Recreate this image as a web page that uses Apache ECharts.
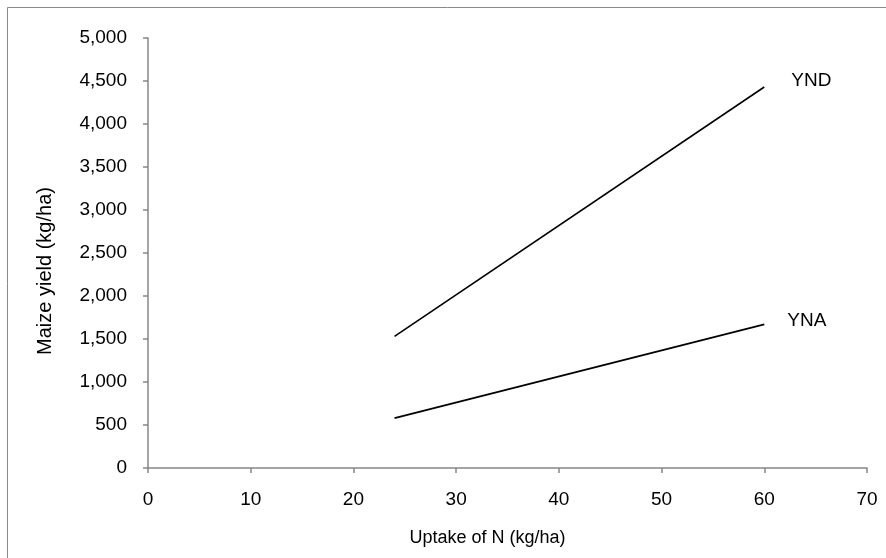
<!DOCTYPE html>
<html>
<head>
<meta charset="utf-8">
<script src="https://cdn.jsdelivr.net/npm/echarts@6/dist/echarts.min.js"></script>
<style>
html,body{margin:0;padding:0;background:#fff;}
#chart{width:886px;height:558px;}
</style>
</head>
<body>
<div id="chart"></div>
<script>
const uptakeN = [24, 60];
const yndYield = [1530, 4430];
const ynaYield = [580, 1670];
const seriesNames = ['YND', 'YNA'];
const xTitle = 'Uptake of N (kg/ha)';
const yTitle = 'Maize yield (kg/ha)';

const FONT = 'Liberation Sans';
const chart = echarts.init(document.getElementById('chart'), null, {renderer: 'canvas'});

function pairs(xs, ys) { return xs.map((x, i) => [x, ys[i]]); }

const axisColor = '#868686';
const option = {
  backgroundColor: '#ffffff',
  animation: false,
  grid: {left: 148, right: 19, top: 38, bottom: 90, containLabel: false},
  xAxis: {
    type: 'value', min: 0, max: 70, interval: 10,
    name: xTitle, nameLocation: 'middle', nameGap: 61,
    nameTextStyle: {fontFamily: FONT, fontSize: 18, color: '#000', padding: [0, 40, 0, 0]},
    axisLine: {show: true, lineStyle: {color: axisColor, width: 1.5}},
    axisTick: {show: true, inside: false, length: 5, lineStyle: {color: axisColor, width: 1.5}},
    axisLabel: {fontFamily: FONT, fontSize: 19, color: '#000', margin: 22},
    splitLine: {show: false}
  },
  yAxis: {
    type: 'value', min: 0, max: 5000, interval: 500,
    name: yTitle, nameLocation: 'middle', nameGap: 93, nameRotate: 90,
    nameTextStyle: {fontFamily: FONT, fontSize: 20, color: '#000', padding: [0, 36, 0, 0]},
    axisLine: {show: true, lineStyle: {color: axisColor, width: 1.5}},
    axisTick: {show: true, inside: false, length: 5, lineStyle: {color: axisColor, width: 1.5}},
    axisLabel: {fontFamily: FONT, fontSize: 19, color: '#000', margin: 21,
      formatter: v => v.toLocaleString('en-US')},
    splitLine: {show: false}
  },
  graphic: [{
    type: 'rect', shape: {x: 7.5, y: 7.5, width: 900, height: 600},
    style: {fill: 'none', stroke: '#888888', lineWidth: 1}, silent: true, z: -1
  }],
  series: [
    {name: seriesNames[0], type: 'line', data: pairs(uptakeN, yndYield), symbol: 'none',
     lineStyle: {color: '#000', width: 1.6},
     endLabel: {show: true, formatter: '{a}', fontFamily: FONT, fontSize: 19, color: '#000', distance: 27, offset: [0, -6]}},
    {name: seriesNames[1], type: 'line', data: pairs(uptakeN, ynaYield), symbol: 'none',
     lineStyle: {color: '#000', width: 1.6},
     endLabel: {show: true, formatter: '{a}', fontFamily: FONT, fontSize: 19, color: '#000', distance: 23, offset: [0, -4]}}
  ]
};
chart.setOption(option);
</script>
</body>
</html>
